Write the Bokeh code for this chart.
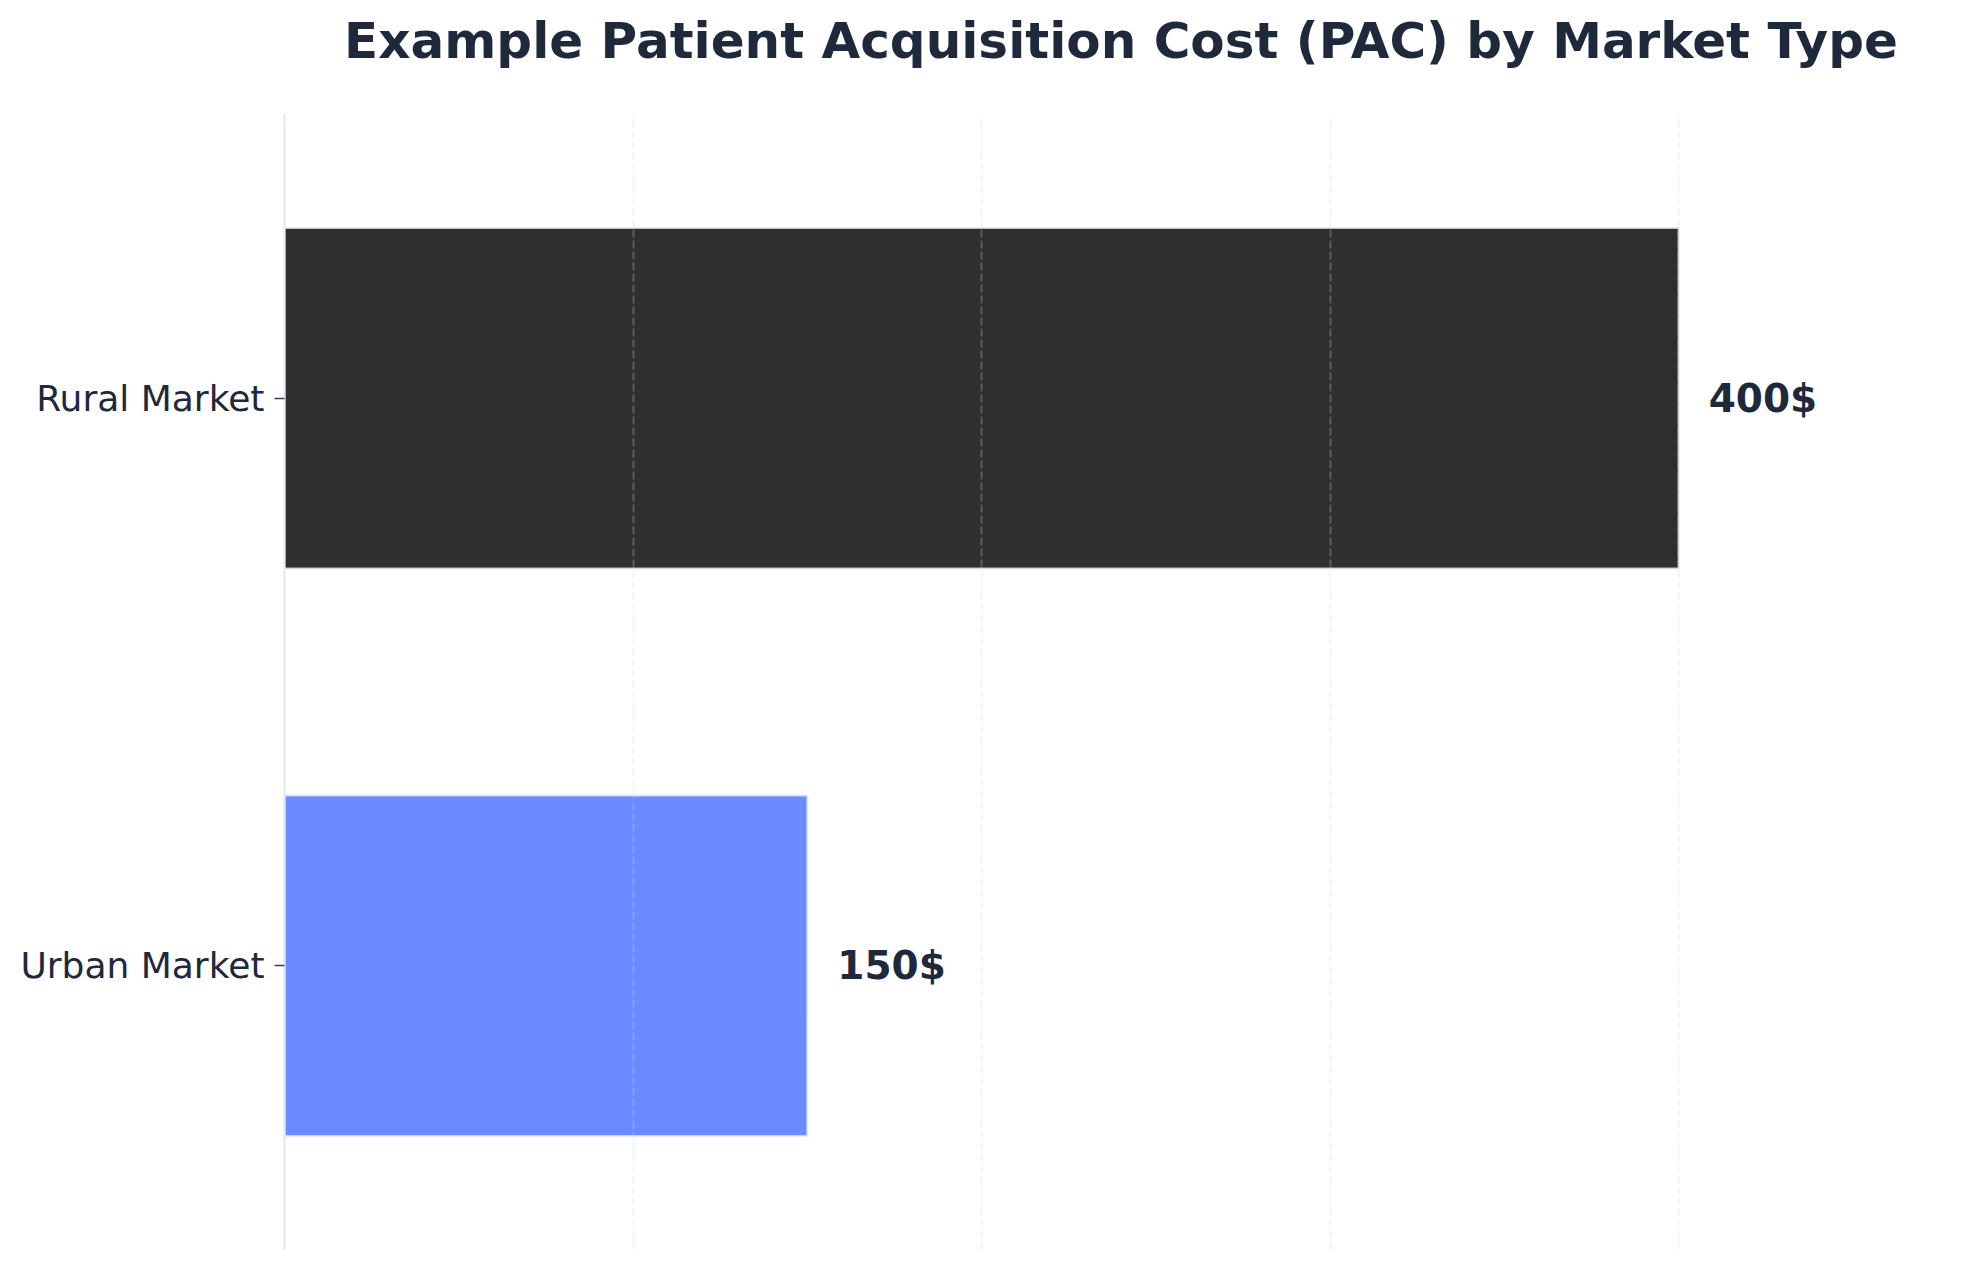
from bokeh.plotting import figure
from bokeh.embed import file_html
from bokeh.resources import INLINE
from bokeh.models import ColumnDataSource, Range1d, FactorRange, SingleIntervalTicker, Title
from bokeh.core.properties import value

# data
markets = ["Urban Market", "Rural Market"]
pac = [150, 400]
bar_colors = ["#6a8aff", "#2f2f2f"]
labels = [str(v) + "$" for v in pac]
chart_title = "Example Patient Acquisition Cost (PAC) by Market Type"

TEXT = "#1e293b"
FONT = "DejaVu Sans"

src = ColumnDataSource(data=dict(market=markets, pac=pac, color=bar_colors, label=labels))

p = figure(y_range=FactorRange(factors=markets), x_range=Range1d(0, max(pac) * 1.2),
           width=1968, height=1252, output_backend="svg", toolbar_location=None,
           tools="", title=None,
           min_border_left=284, min_border_right=11, min_border_top=114, min_border_bottom=3)

# spacer between frame and title (first added sits next to the frame)
p.add_layout(Title(text=" ", text_font_size="1px", standoff=42), "above")
p.add_layout(Title(text=chart_title, align="center", text_font=FONT, text_font_size="50px",
                   text_font_style="bold", text_color=TEXT, standoff=0), "above")

p.background_fill_color = "white"
p.border_fill_color = "white"
p.outline_line_color = None

p.hbar(y="market", right="pac", left=0, height=0.6, source=src, fill_color="color",
       line_color="#e2e8f0", line_alpha=0.8, line_width=2)

p.text(x="pac", y="market", text="label", source=src, x_offset=30,
       text_font=value(FONT), text_font_size="39px", text_font_style="bold",
       text_color=TEXT, text_baseline="middle", text_align="left")

p.xaxis.visible = False
p.xgrid.ticker = SingleIntervalTicker(interval=100)
p.xgrid.grid_line_color = "#cbd5e1"
p.xgrid.grid_line_alpha = 0.27
p.xgrid.grid_line_dash = "8 3"
p.xgrid.grid_line_width = 2
p.xgrid.level = "overlay"
p.ygrid.visible = False

p.yaxis.axis_line_color = "#e2e8f0"
p.yaxis.axis_line_width = 2
p.yaxis.major_tick_in = 0
p.yaxis.major_tick_out = 10
p.yaxis.major_tick_line_color = "#334155"
p.yaxis.major_tick_line_width = 1.5
p.yaxis.minor_tick_line_color = None
p.yaxis.major_label_text_font = FONT
p.yaxis.major_label_text_font_size = "36px"
p.yaxis.major_label_text_color = TEXT
p.yaxis.major_label_standoff = 10

open("out.html", "w").write(file_html(p, INLINE))
